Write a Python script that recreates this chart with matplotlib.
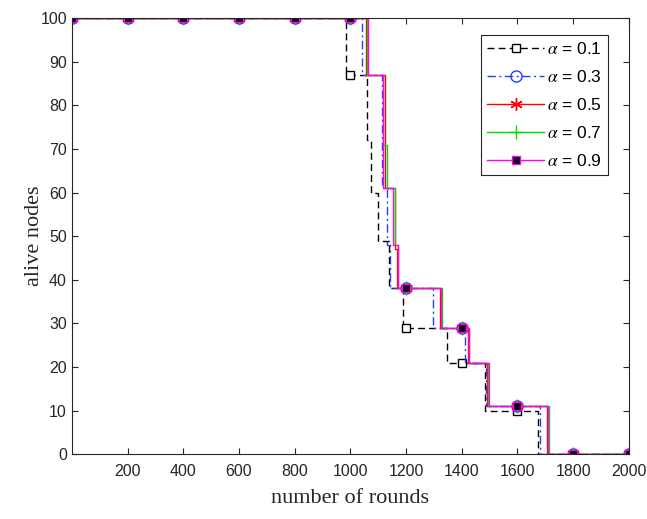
import numpy as np
import matplotlib
matplotlib.use("Agg")
import matplotlib.pyplot as plt

# step change points: (round where the value changes, new value)
rounds_01 = [0, 985, 1059, 1073, 1100, 1140, 1190, 1346, 1484, 1674, 2000]
alive_01 = [100, 87, 72, 60, 49, 38, 29, 21, 10, 0, 0]

rounds_03 = [0, 1041, 1113, 1130, 1143, 1297, 1411, 1488, 1680, 2000]
alive_03 = [100, 87, 61, 48, 38, 29, 21, 11, 0, 0]

rounds_05 = [0, 1056, 1125, 1160, 1168, 1322, 1422, 1492, 1705, 2000]
alive_05 = [100, 87, 61, 47, 38, 29, 21, 11, 0, 0]

rounds_07 = [0, 1058, 1118, 1130, 1162, 1170, 1328, 1426, 1494, 1712, 2000]
alive_07 = [100, 87, 71, 61, 48, 38, 29, 21, 11, 0, 0]

rounds_09 = [0, 1062, 1117, 1152, 1170, 1325, 1425, 1497, 1709, 2000]
alive_09 = [100, 87, 61, 48, 38, 29, 21, 11, 0, 0]

# marker samples every 200 rounds
marker_rounds = [0, 200, 400, 600, 800, 1000, 1200, 1400, 1600, 1800, 2000]
marks_01 = [100, 100, 100, 100, 100, 87, 29, 21, 10, 0, 0]
marks_03 = [100, 100, 100, 100, 100, 100, 38, 29, 11, 0, 0]
marks_05 = [100, 100, 100, 100, 100, 100, 38, 29, 11, 0, 0]
marks_07 = [100, 100, 100, 100, 100, 100, 38, 29, 11, 0, 0]
marks_09 = [100, 100, 100, 100, 100, 100, 38, 29, 11, 0, 0]

labels = [r"$\alpha$ = 0.1", r"$\alpha$ = 0.3", r"$\alpha$ = 0.5",
          r"$\alpha$ = 0.7", r"$\alpha$ = 0.9"]

plt.rcParams["mathtext.fontset"] = "stix"
plt.rcParams["font.family"] = ["Liberation Sans", "DejaVu Sans"]

fig = plt.figure(figsize=(6.47, 5.19), dpi=100)
ax = fig.add_axes([0.111, 0.125, 0.861, 0.840])

asterisk = (6, 2, 0)
styles = [
    dict(color="black", ls=(0, (5, 3)), marker="s", ms=5.5, mfc="white", mec="black"),
    dict(color="#1f3fff", ls=(0, (6, 2.5, 1.5, 2.5)), marker="o", ms=8, mfc="none", mec="#1f3fff"),
    dict(color="red", ls="-", marker=asterisk, ms=9, mfc="red", mec="red"),
    dict(color="#00dd00", ls="-", marker="+", ms=10, mfc="none", mec="#00dd00"),
    dict(color="magenta", ls="-", marker="s", ms=5.5, mfc="black", mec="magenta"),
]
series = [(rounds_01, alive_01, marks_01), (rounds_03, alive_03, marks_03),
          (rounds_05, alive_05, marks_05), (rounds_07, alive_07, marks_07),
          (rounds_09, alive_09, marks_09)]

handles = []
for (r, a, m), st in zip(series, styles):
    ax.plot(r, a, drawstyle="steps-post", color=st["color"], ls=st["ls"], lw=1.0)
    ax.plot(marker_rounds, m, ls="none", marker=st["marker"], ms=st["ms"],
            mfc=st["mfc"], mec=st["mec"], mew=1.0)
    proxy, = ax.plot([], [], color=st["color"], ls=st["ls"], lw=1.0, marker=st["marker"],
                     ms=st["ms"], mfc=st["mfc"], mec=st["mec"], mew=1.0)
    handles.append(proxy)

ax.set_xlim(0, 2000)
ax.set_ylim(0, 100)
ax.set_xticks(np.arange(200, 2001, 200))
ax.set_yticks(np.arange(0, 101, 10))
ax.tick_params(direction="in", top=True, right=True, labelsize=11.5,
               labelcolor="#262626", color="#262626", length=4, width=0.8)
ax.tick_params(axis="x", pad=7)
for sp in ax.spines.values():
    sp.set_color("#262626")
    sp.set_linewidth(0.8)

ax.set_xlabel("number of rounds", fontsize=16, family="Liberation Serif",
              color="#262626", labelpad=7)
ax.set_ylabel("alive nodes", fontsize=16, family="Liberation Serif",
              color="#262626", labelpad=-3)

leg = ax.legend(handles, labels, loc="upper right", bbox_to_anchor=(0.962, 0.962),
                fontsize=12.5, handlelength=3.3, handletextpad=0.15, borderpad=0.35,
                labelspacing=0.7, fancybox=False, framealpha=1, borderaxespad=0)
leg.get_frame().set_edgecolor("#262626")
leg.get_frame().set_linewidth(0.8)

fig.savefig("out.png", dpi=100)
